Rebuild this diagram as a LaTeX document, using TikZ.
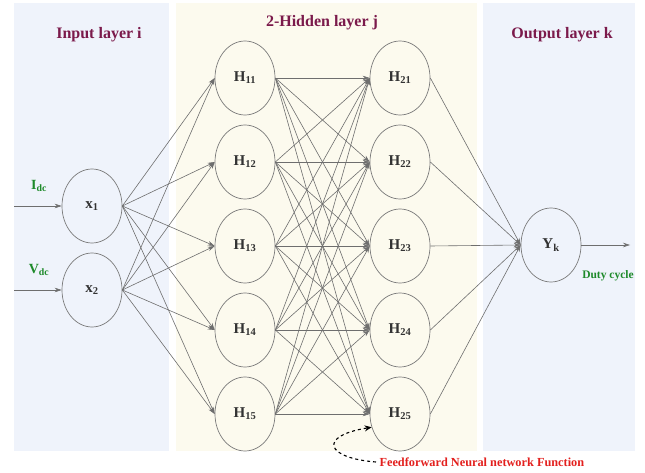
\documentclass[tikz,border=0pt]{standalone}
\usepackage{fontspec}
\setmainfont{Liberation Serif}
\usetikzlibrary{shapes.geometric,arrows.meta}
\definecolor{panelblue}{HTML}{EFF3FB}
\definecolor{panelcream}{HTML}{FCFAEE}
\definecolor{titlecol}{HTML}{7B1A4B}
\definecolor{greencol}{HTML}{1E8A2A}
\definecolor{redcol}{HTML}{E3201E}
\definecolor{edgecol}{HTML}{6E6E6E}
\definecolor{nodeline}{HTML}{7A7A7A}
\begin{document}
\begin{tikzpicture}[x=1pt,y=-1pt,
  neuron/.style={ellipse,draw=nodeline,line width=0.7pt,minimum width=60pt,minimum height=74pt,inner sep=0pt,font=\bfseries\fontsize{15}{15}\selectfont,text=black!80},
  conn/.style={draw=edgecol,line width=0.6pt,-{Stealth[length=7pt,width=4.5pt]}},
  title/.style={font=\bfseries\fontsize{16}{16}\selectfont,text=titlecol},
  glabel/.style={font=\bfseries\fontsize{14}{14}\selectfont,text=greencol}]
\useasboundingbox (0,0) rectangle (645,473);
\fill[white] (0,0) rectangle (645,473);
% panels
\fill[panelblue] (14,3) rectangle (169,451);
\fill[panelcream] (176,3) rectangle (477,451);
\fill[panelblue] (483,3) rectangle (635,451);
% titles
\node[title] (t1) at (99,35) {Input layer i};
\node[title] (t2) at (322,23) {2-Hidden layer j};
\node[title] (t3) at (562,35) {Output layer k};
% input neurons
\node[neuron] (x1) at (92,206) {x\textsubscript{1}};
\node[neuron] (x2) at (92,290) {x\textsubscript{2}};
% hidden layers
\foreach \i/\y in {1/78,2/162,3/246,4/330,5/414}{
  \node[neuron] (H1\i) at (245,\y) {H\textsubscript{1\i}};
  \node[neuron] (H2\i) at (400,\y) {H\textsubscript{2\i}};
}
\node[neuron] (Y) at (551,245) {Y\textsubscript{k}};
% inputs
\coordinate (in1) at (14,206);
\coordinate (in2) at (14,290);
\coordinate (out) at (630,245);
\draw[conn] (in1) -- (x1.west);
\draw[conn] (in2) -- (x2.west);
\draw[conn] (Y.east) -- (out);
\node[glabel] (Idc) at (39,186) {I\textsubscript{dc}};
\node[glabel] (Vdc) at (39,270) {V\textsubscript{dc}};
\node[font=\bfseries\fontsize{11.5}{11.5}\selectfont,text=greencol] (dc) at (608,276) {Duty cycle};
% connections
\foreach \a in {1,2}{
  \foreach \j in {1,...,5}{
    \draw[conn] (x\a.east) -- (H1\j.west);
  }
}
\foreach \i in {1,...,5}{
  \foreach \j in {1,...,5}{
    \draw[conn] (H1\i.east) -- (H2\j.west);
  }
  \draw[conn] (H2\i.east) -- (Y.west);
}
% feedforward label
\node[font=\bfseries\fontsize{12.3}{12.3}\selectfont,text=redcol,anchor=west] (ff) at (376,462) {Feedforward Neural network Function};
\draw[dashed,line width=1.1pt,-{Stealth[length=7pt,width=6pt]}] (ff.west) .. controls (325,458) and (318,436) .. (H25.205);
\end{tikzpicture}
\end{document}
